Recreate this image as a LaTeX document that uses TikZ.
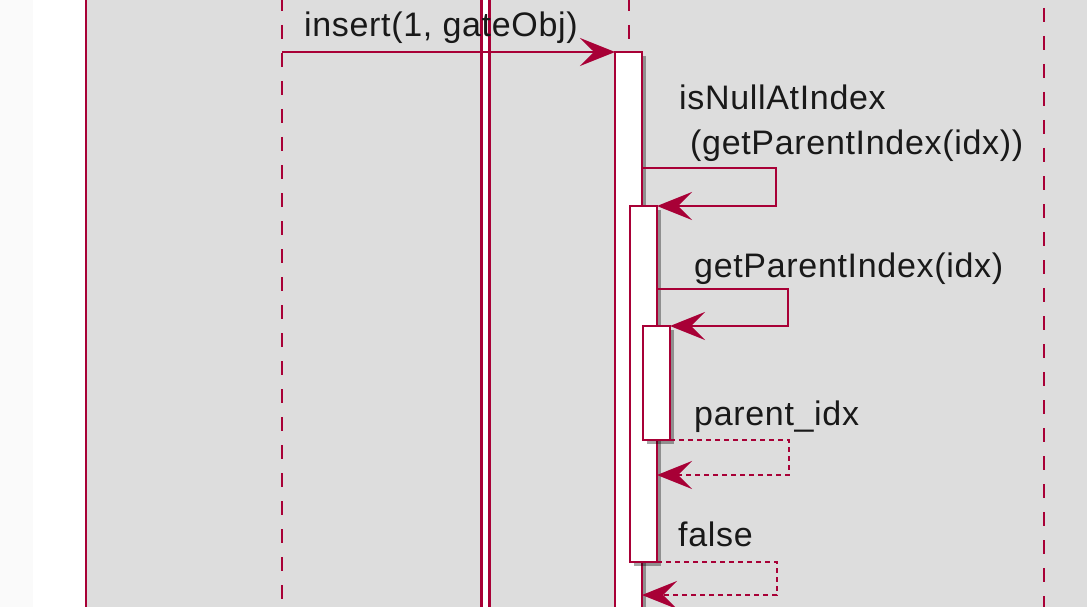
\documentclass[tikz,border=0pt]{standalone}
\usepackage{fontspec}
\setmainfont{Liberation Sans}[LetterSpace=2.0]
\usetikzlibrary{arrows.meta,shadows}
\definecolor{umlred}{HTML}{A80036}
\definecolor{umlbox}{HTML}{DDDDDD}
\definecolor{umlpaper}{HTML}{FAFAFA}

\begin{document}
\begin{tikzpicture}[x=1pt,y=-1pt,line width=2.4pt,font=\fontsize{34}{40}\selectfont,
 lifeline/.style={draw=umlred,dash pattern=on 14pt off 14pt},
 act/.style={draw=umlred,fill=white,inner sep=0pt,outer sep=0pt,minimum width=27pt,anchor=north west,
  drop shadow={shadow xshift=4pt,shadow yshift=-4pt,fill=black,opacity=.35}},
 msg/.style={draw=umlred,-{Stealth[length=35pt,width=28pt,inset=14pt]}},
 ret/.style={msg,dash pattern=on 5pt off 4pt},
 lbl/.style={anchor=base west,inner sep=0pt,text=black!90}]
\clip (0,0) rectangle (1087,607);
\fill[umlpaper] (0,0) rectangle (33,607);
\draw[draw=umlred,fill=umlbox] (86,-10) rectangle (1100,620);
% lifelines
\draw[lifeline] (282,-3) -- (282,620);
\draw[lifeline] (629,-3) -- (629,52);
\draw[lifeline] (1044,8) -- (1044,620);
\draw[draw=umlred,fill=white] (481.5,-10) rectangle (489.5,620);
% activations
\node[act,minimum height=570pt] (insertAct) at (615,52) {};
\node[act,minimum height=356pt] (nullAct) at (630,206) {};
\node[act,minimum height=114pt] (parentAct) at (643,326) {};
% calls
\coordinate (gate) at (282,52);
\draw[msg] (gate) -- (insertAct.north west);
\node[lbl] (insertLbl) at (303,37) {insert(1, gateObj)};
\draw[msg] (insertAct.east |- 0,168) -- (776,168) |- (nullAct.north east);
\node[lbl] (nullLbl) at (678,110) {isNullAtIndex};
\node[lbl] (nullLblB) at (689,155) {(getParentIndex(idx))};
\draw[msg] (nullAct.east |- 0,289) -- (788,289) |- (parentAct.north east);
\node[lbl] (parentLbl) at (693,277) {getParentIndex(idx)};
% returns
\draw[ret] (parentAct.south east) -- (789,440) |- (nullAct.east |- 0,475);
\node[lbl] (idxLbl) at (693,425) {parent\_idx};
\draw[ret] (nullAct.south east) -- (777,562) |- (insertAct.east |- 0,595);
\node[lbl] (falseLbl) at (677,546) {false};
\end{tikzpicture}
\end{document}
